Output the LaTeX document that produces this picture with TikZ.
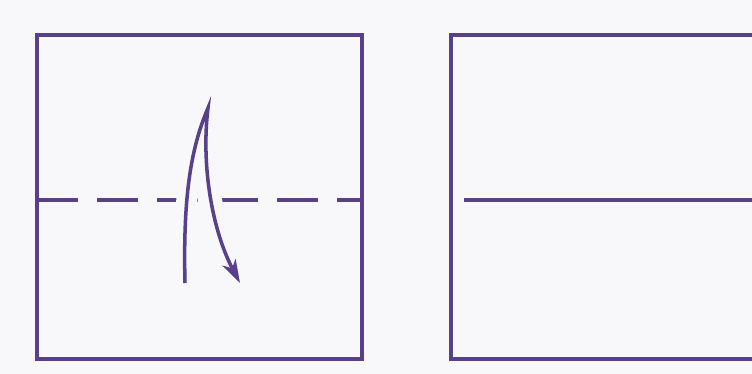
\documentclass[tikz,border=0pt]{standalone}
\usetikzlibrary{arrows.meta}
\definecolor{paper}{RGB}{248, 247, 250}
\definecolor{foldpurple}{RGB}{88, 64, 138}
\tikzset{
  edgeline/.style={
    draw=foldpurple,
    line width=3.4pt,
    line join=miter
  },
  valleyline/.style={
    draw=foldpurple,
    line width=3.2pt,
    dash pattern=on 1.23cm off 0.57cm
  },
  creaseline/.style={
    draw=foldpurple,
    line width=3.2pt
  },
  foldarrow/.style={
    draw=foldpurple,
    line width=3pt,
    -{Stealth[length=7mm, width=4.4mm, inset=2mm]},
    preaction={draw=paper, line width=18pt, arrows=-}
  }
}
\begin{document}
\begin{tikzpicture}[x=0.03cm, y=-0.03cm]
  % Frame of the image
  \useasboundingbox (0, 0) rectangle (752, 374);
  \fill[paper] (0, 0) rectangle (752, 374);
  \clip (0, 0) rectangle (752, 374);

  % Left square with the valley fold
  \draw[valleyline] (37, 200) -- (362, 200);
  \coordinate (start) at (185, 283);
  \coordinate (tip) at (208, 108);
  \coordinate (finish) at (240, 283);
  \draw[foldarrow] (start) .. controls (183, 200) and (190, 150) .. (tip)
    .. controls (201, 165) and (212, 230) .. (finish);
  \draw[edgeline] (37, 35) rectangle (362, 359);

  % Right square, folded
  \draw[edgeline] (451, 35) rectangle (800, 359);
  \draw[creaseline] (464, 200) -- (800, 200);
\end{tikzpicture}
\end{document}
